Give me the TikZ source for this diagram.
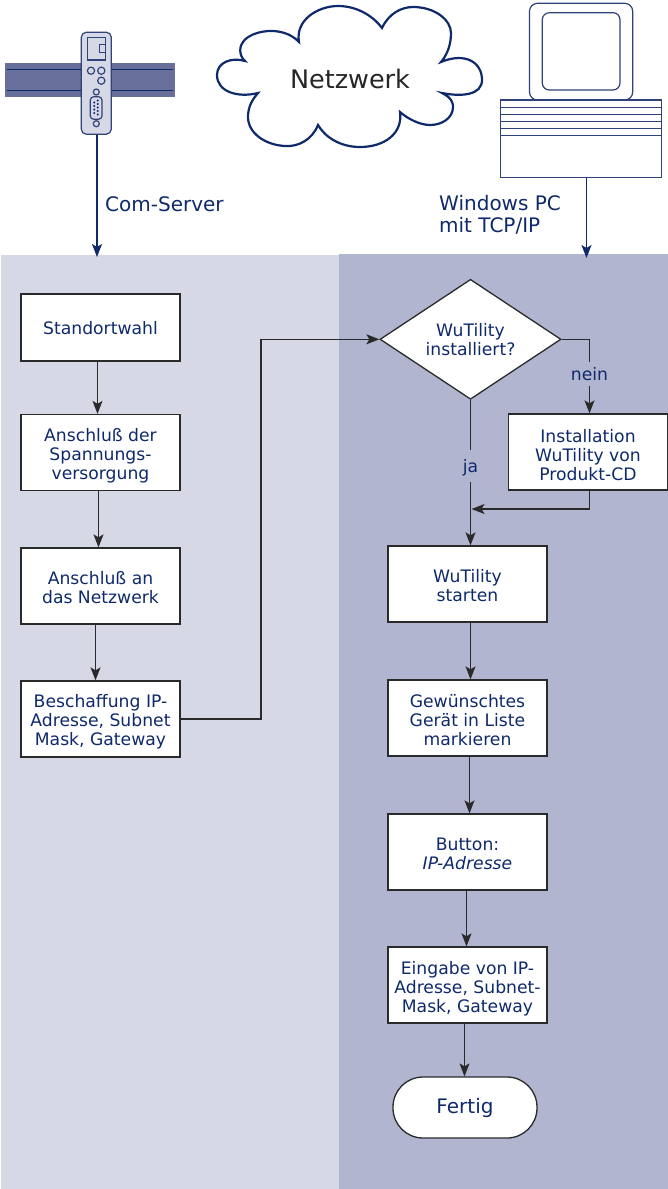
\documentclass[tikz,border=0pt]{standalone}
\usepackage{fontspec}
\setmainfont{DejaVu Sans}
\usetikzlibrary{arrows.meta,shapes.geometric}
\definecolor{navy}{HTML}{0F2A6B}
\definecolor{lblue}{HTML}{D6D8E6}
\definecolor{mblue}{HTML}{B1B5CF}
\definecolor{railc}{HTML}{686F9B}
\definecolor{iconl}{HTML}{2F4379}
\definecolor{flow}{HTML}{2A2A2A}
\newcommand\dn[1]{\rule{0pt}{#1pt}}
\tikzset{
 fbox/.style={draw=flow,fill=white,line width=1.3pt,minimum width=159pt,minimum height=76pt,inner sep=0pt,align=center,text=navy,font=\fontsize{17.2}{19}\selectfont},
 flowline/.style={draw=flow,line width=1.3pt},
 flowarrow/.style={flowline,-{Stealth[length=13pt,width=10pt,inset=3pt]}},
 toparrow/.style={draw=navy,line width=1.3pt,-{Stealth[length=13pt,width=10pt,inset=3pt]}},
 lab/.style={text=navy,font=\fontsize{20}{22}\selectfont,align=left,inner sep=0pt},
 flab/.style={fill=mblue,text=navy,inner sep=0pt,minimum width=30pt,font=\fontsize{17.2}{19}\selectfont},
 icon/.style={draw=iconl,line width=1.2pt},
}
\begin{document}
\begin{tikzpicture}[x=1pt,y=-1pt]
\useasboundingbox (0,0) rectangle (668,1189);
\fill[white] (0,0) rectangle (668,1189);
\fill[lblue] (1,255) rectangle (339,1189);
\fill[mblue] (339,254) rectangle (668,1189);
% rail
\fill[railc] (5,63) rectangle (175,97);
\draw[navy,line width=1.5pt] (7,69.3) -- (173,69.3) (7,90.7) -- (173,90.7);
% com server
\node[icon,fill=lblue,rounded corners=5pt,minimum width=30pt,minimum height=102pt,inner sep=0pt] (dev) at (96.3,83.2) {};
\draw[icon] (87.3,37.3) rectangle (105.3,60);
\draw[icon] (99.7,44.3) rectangle (105.3,52.3);
\draw[icon] (91,70.7) circle (3.6pt) (101.3,70.7) circle (3.6pt) (101.3,80.7) circle (3.6pt) (96.3,92) circle (3pt) (96.3,123.7) circle (3pt);
\draw[icon,rounded corners=3.5pt] (90.3,96.7) rectangle (102,119.3);
\foreach \yy in {100.5,104,107.5,111,114.5}{\fill[navy] (97.8,\yy) circle (1.1pt);}
\foreach \yy in {102.5,106,109.5,113}{\fill[navy] (94.2,\yy) circle (1.1pt);}
% cloud
\draw[navy,line width=2.2pt,line join=miter,fill=white]
 (299,42) .. controls (295,20) and (318,6) .. (338,6)
 .. controls (358,6) and (374,17) .. (382,28)
 .. controls (389,13) and (402,7) .. (413,7)
 .. controls (435,7) and (451,20) .. (451,33)
 .. controls (451,45) and (447,55) .. (441,62)
 .. controls (465,52) and (482,62) .. (482,80)
 .. controls (482,95) and (462,97) .. (442,93)
 .. controls (452,98) and (453,103) .. (453,107)
 .. controls (453,118) and (442,125) .. (430,125)
 .. controls (420,125) and (408,119) .. (400,112)
 .. controls (403,133) and (385,147) .. (360,147)
 .. controls (340,147) and (325,137) .. (318,125)
 .. controls (312,140) and (298,147) .. (285,146)
 .. controls (265,145) and (248,133) .. (248,117)
 .. controls (248,107) and (252,100) .. (258,93)
 .. controls (238,98) and (217,92) .. (217,75)
 .. controls (217,62) and (232,57) .. (245,61)
 .. controls (238,55) and (240,45) .. (243,42)
 .. controls (250,31) and (282,24) .. (299,42) -- cycle;
\node[text=black!85,font=\fontsize{25.5}{28}\selectfont,inner sep=0pt] (net) at (350,79) {Netzwerk};
% pc
\draw[icon,rounded corners=8pt] (529.5,3.3) rectangle (632.7,100);
\draw[icon,rounded corners=7pt] (542.3,12.7) rectangle (620,90);
\node[icon,fill=white,minimum width=161pt,minimum height=77.7pt,inner sep=0pt] (pc) at (581.2,138.9) {};
\foreach \yy in {107.3,114.7,121.3,128.3,135.3}{\draw[icon] (500.7,\yy) -- (661.7,\yy);}
% top labels
\node[lab,anchor=west] (lcom) at (105,204) {Com-Server};
\node[lab,anchor=west] (lpc) at (439,215) {Windows PC\\mit TCP/IP};
\coordinate (c1) at (97,257);
\coordinate (c2) at (586.5,258);
\draw[toparrow] (dev.south -| c1) -- (c1);
\draw[toparrow] (pc.south -| c2) -- (c2);
% flow boxes
\node[fbox,minimum height=67pt] (a1) at (100.5,327.5) {\dn{15}Standortwahl};
\node[fbox] (a2) at (100.5,452.5) {\dn{20}Anschluß der\\Spannungs-\\versorgung};
\node[fbox] (a3) at (100.5,586) {\dn{16}Anschluß an\\das Netzwerk};
\node[fbox] (a4) at (100.5,719) {\dn{18}Beschaffung IP-\\Adresse, Subnet\\Mask, Gateway};
\node[draw=flow,fill=white,line width=1.3pt,diamond,aspect=1.5,minimum width=181pt,minimum height=120pt,inner sep=0pt,align=center,text=navy,font=\fontsize{17.2}{19}\selectfont] (d) at (470.5,339.3) {WuTility\\installiert?};
\node[fbox] (i) at (588,452) {\dn{20}Installation\\WuTility von\\Produkt-CD};
\node[fbox] (b1) at (467.5,584) {\dn{16}WuTility\\starten};
\node[fbox] (b2) at (467.5,718) {\dn{18}Gewünschtes\\Gerät in Liste\\markieren};
\node[fbox] (b3) at (467.5,852) {\dn{16}Button:\\\textit{IP-Adresse}};
\node[fbox] (b4) at (467.5,985) {\dn{20}Eingabe von IP-\\Adresse, Subnet-\\Mask, Gateway};
\node[fbox,rounded corners=30pt,minimum width=144pt,minimum height=61pt,font=\fontsize{20}{24}\selectfont] (f) at (465,1107.5) {\dn{16}Fertig};
% connectors
\draw[flowarrow] ([xshift=-3pt]a1.south) -- ([xshift=-3pt]a2.north);
\draw[flowarrow] ([xshift=-2pt]a2.south) -- ([xshift=-2pt]a3.north);
\draw[flowarrow] ([xshift=-5pt]a3.south) -- ([xshift=-5pt]a4.north);
\coordinate (bend) at (261,341);
\draw[flowarrow] (a4.east) -- (a4.east -| bend) -- (bend |- d.west) -- (d.west);
\coordinate (turn) at (589.5,339.3);
\draw[flowarrow] (d.east) -- (turn) -- (i.north -| turn) node[flab,pos=.467,minimum height=24pt] (nein) {nein};
\draw[flowarrow] (d.south) -- (b1.north -| d.south) node[flab,pos=.456,minimum height=32pt] (ja) {\dn{16}ja};
\coordinate (back) at (589.5,509);
\coordinate (join) at (471.5,509);
\draw[flowarrow] (i.south -| back) -- (back) -- (join);
\draw[flowarrow] ([xshift=3pt]b1.south) -- ([xshift=3pt]b2.north);
\draw[flowarrow] ([xshift=2pt]b2.south) -- ([xshift=2pt]b3.north);
\draw[flowarrow] ([xshift=-1pt]b3.south) -- ([xshift=-1pt]b4.north);
\draw[flowarrow] ([xshift=-3pt]b4.south) -- ([xshift=-3pt]b4.south |- f.north);
\end{tikzpicture}
\end{document}
